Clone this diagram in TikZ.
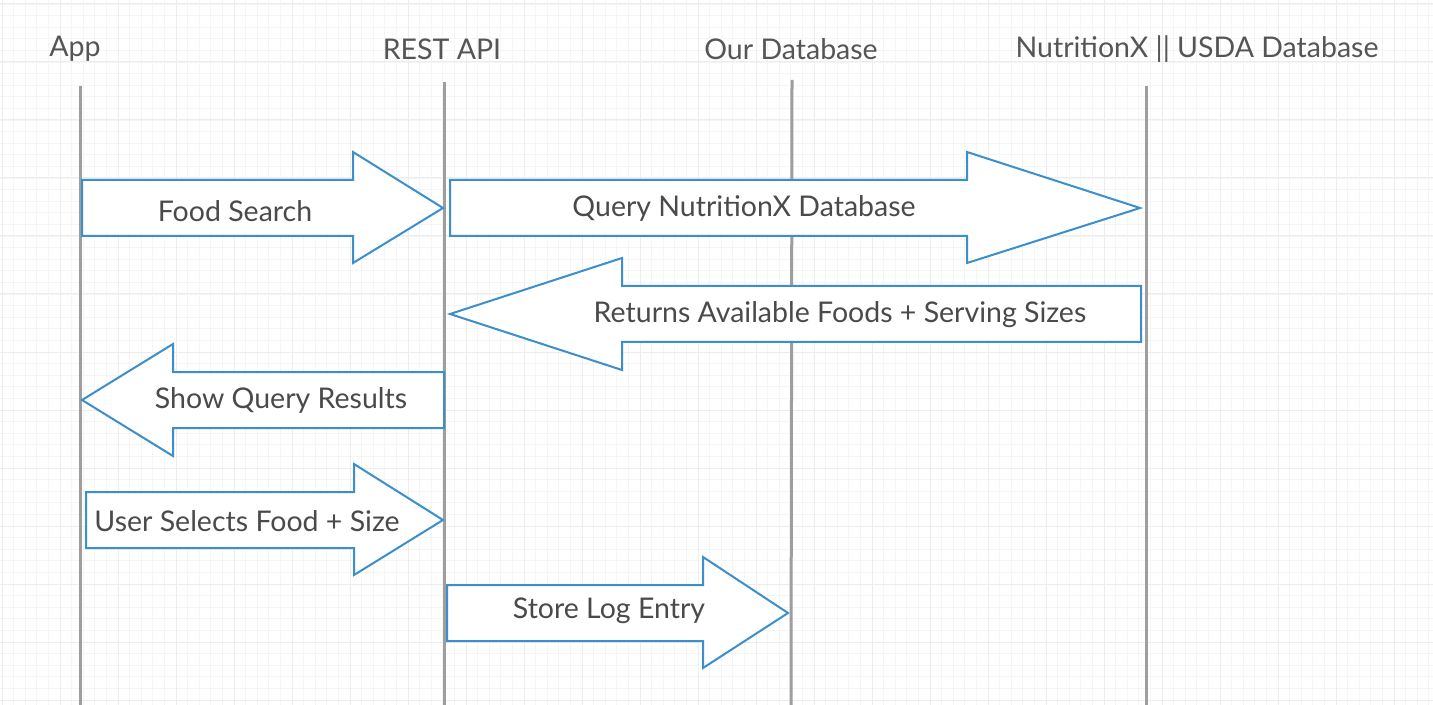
\documentclass[tikz,border=0pt]{standalone}
\usepackage{fontspec}
\setmainfont{Lato}
\definecolor{arrblue}{HTML}{3A8FCC}
\definecolor{lifegray}{HTML}{9E9E9E}
\definecolor{txtgray}{HTML}{4A4A4A}
\definecolor{hdrgray}{HTML}{555555}
\begin{document}
\begin{tikzpicture}[x=0.5pt,y=-0.5pt,
  gridline/.style={draw=black!4,line width=0.4pt},
  gridmajor/.style={draw=black!7,line width=0.5pt},
  lifeline/.style={draw=lifegray,line width=1.5pt},
  header/.style={text=hdrgray,font=\fontsize{14.25}{16}\selectfont,inner sep=0pt},
  msgarrow/.style={draw=arrblue,fill=white,line width=1pt,line join=miter},
  msglabel/.style={text=txtgray,font=\fontsize{14.25}{16}\selectfont,inner sep=0pt}]
\useasboundingbox (0,0) rectangle (1433,705);
\fill[white] (0,0) rectangle (1433,705);
% grid
\foreach \i in {0,...,124} {
  \pgfmathsetmacro{\gx}{2+11.6*\i}
  \draw[gridline] (\gx,0) -- (\gx,705);
}
\foreach \i in {0,...,61} {
  \pgfmathsetmacro{\gy}{4+11.6*\i}
  \draw[gridline] (0,\gy) -- (1433,\gy);
}
\foreach \i in {0,...,25} {
  \pgfmathsetmacro{\gx}{2+58*\i}
  \draw[gridmajor] (\gx,0) -- (\gx,705);
}
\foreach \i in {0,...,12} {
  \pgfmathsetmacro{\gy}{4+58*\i}
  \draw[gridmajor] (0,\gy) -- (1433,\gy);
}
% headers
\node[header] (hApp) at (75,49) {App};
\node[header] (hApi) at (442,49) {REST API};
\node[header] (hDb) at (791,49) {Our Database};
\node[header] (hNx) at (1197,49) {NutritionX || USDA Database};
% lifelines
\coordinate (lApp0) at (80,86);  \coordinate (lApp1) at (80,705);
\coordinate (lApi0) at (444,82); \coordinate (lApi1) at (444,705);
\coordinate (lDb0) at (792,80);  \coordinate (lDb1) at (791,705);
\coordinate (lNx0) at (1146,86); \coordinate (lNx1) at (1146,705);
\draw[lifeline] (lApp0) -- (lApp1);
\draw[lifeline] (lApi0) -- (lApi1);
\draw[lifeline] (lDb0) -- (lDb1);
\draw[lifeline] (lNx0) -- (lNx1);
% 1 Food Search
\draw[msgarrow] (82,180) -- (353,180) -- (353,152) -- (443,208) -- (353,263) -- (353,236) -- (82,236) -- cycle;
\node[msglabel] (mFood) at (235,211) {Food Search};
% 2 Query NutritionX
\draw[msgarrow] (450,180) -- (967,180) -- (967,152) -- (1140,208) -- (967,263) -- (967,236) -- (450,236) -- cycle;
\node[msglabel] (mQuery) at (744,208) {Query NutritionX Database};
% 3 Returns
\draw[msgarrow] (1141,286) -- (622,286) -- (622,258) -- (450,314) -- (622,370) -- (622,342) -- (1141,342) -- cycle;
\node[msglabel] (mRet) at (840,315) {Returns Available Foods + Serving Sizes};
% 4 Show Query Results
\draw[msgarrow] (444,372) -- (173,372) -- (173,344) -- (82,400) -- (173,456) -- (173,428) -- (444,428) -- cycle;
\node[msglabel] (mShow) at (281,400) {Show Query Results};
% 5 User Selects
\draw[msgarrow] (86,492) -- (354,492) -- (354,464) -- (443,520) -- (354,575) -- (354,548) -- (86,548) -- cycle;
\node[msglabel] (mSel) at (247,521) {User Selects Food + Size};
% 6 Store Log Entry
\draw[msgarrow] (447,585) -- (703,585) -- (703,557) -- (788,613) -- (703,668) -- (703,641) -- (447,641) -- cycle;
\node[msglabel] (mStore) at (609,611) {Store Log Entry};
\end{tikzpicture}
\end{document}
